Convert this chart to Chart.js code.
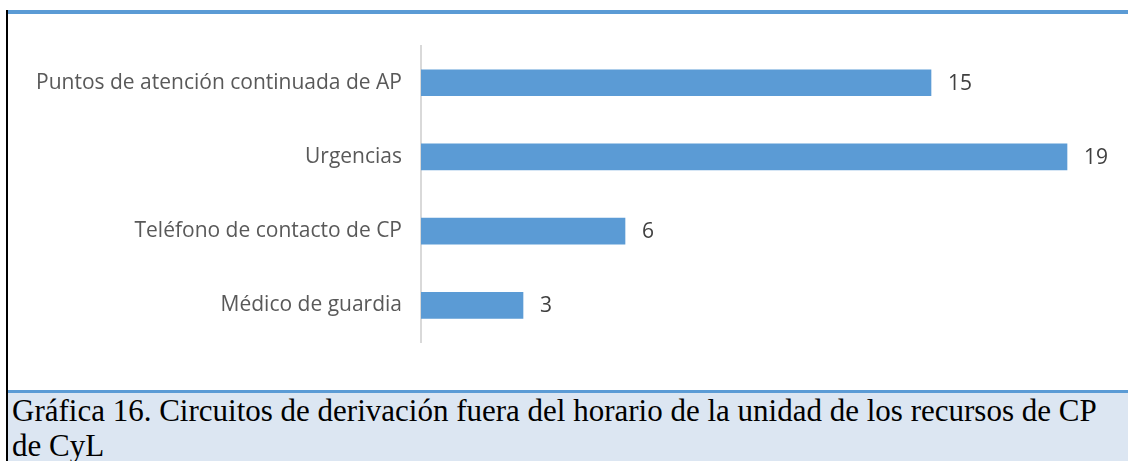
<!DOCTYPE html>
<html>
<head>
<meta charset="utf-8">
<script src="https://cdn.jsdelivr.net/npm/chart.js@4"></script>
<style>
  html, body { margin: 0; padding: 0; background: #fff; }
  body { width: 1128px; height: 461px; position: relative; overflow: hidden; }
  #topline { position: absolute; left: 6px; top: 10px; right: 0; height: 4px; background: #5B9BD5; }
  #leftline { position: absolute; left: 6px; top: 10px; width: 2px; bottom: 0; background: #000; }
  #box { position: absolute; left: 8px; top: 14px; width: 1120px; height: 376px; }
  #caption {
    position: absolute; left: 8px; top: 390px; right: 0; bottom: 0;
    border-top: 3px solid #5B9BD5; background: #DCE6F2;
    font-family: "Liberation Serif", "Times New Roman", serif; font-size: 31px;
    line-height: 35px; color: #000; padding: 0 0 0 4px; box-sizing: border-box;
  }
</style>
</head>
<body>
<div id="topline"></div>
<div id="leftline"></div>
<div id="box"><canvas id="chart"></canvas></div>
<div id="caption">Gráfica 16. Circuitos de derivación fuera del horario de la unidad de los recursos de CP de CyL</div>
<script>
document.addEventListener("DOMContentLoaded", function () {
  const categories = [
    "Puntos de atención continuada de AP",
    "Urgencias",
    "Teléfono de contacto de CP",
    "Médico de guardia",
  ];
  const values = [15, 19, 6, 3];

  // value labels at the end of each bar
  const barLabels = {
    id: "barLabels",
    afterDatasetsDraw(chart) {
      const ctx = chart.ctx;
      const meta = chart.getDatasetMeta(0);
      ctx.save();
      ctx.font = "21px 'Open Sans', sans-serif";
      ctx.fillStyle = "#404040";
      ctx.textAlign = "left";
      ctx.textBaseline = "middle";
      meta.data.forEach(function (bar, i) {
        ctx.fillText(String(values[i]), bar.x + 17, bar.y + 1);
      });
      ctx.restore();
    },
  };

  new Chart(document.getElementById("chart"), {
    type: "bar",
    data: {
      labels: categories,
      datasets: [
        {
          data: values,
          backgroundColor: "#5B9BD5",
          borderWidth: 0,
          barThickness: 26,
        },
      ],
    },
    options: {
      indexAxis: "y",
      responsive: true,
      maintainAspectRatio: false,
      animation: false,
      layout: { padding: { top: 28.5, bottom: 47.5, left: 0, right: 27 } },
      plugins: {
        legend: { display: false },
        tooltip: { enabled: false },
      },
      scales: {
        x: {
          min: 0,
          max: 20,
          display: false,
        },
        y: {
          afterFit: function (scale) {
            scale.width = 413;
          },
          grid: { display: false, drawTicks: false },
          border: { display: true, color: "#D9D9D9", width: 2 },
          ticks: {
            padding: 19,
            color: "#595959",
            font: { family: "'Open Sans', sans-serif", size: 21 },
          },
        },
      },
    },
    plugins: [barLabels],
  });
});
</script>
</body>
</html>
